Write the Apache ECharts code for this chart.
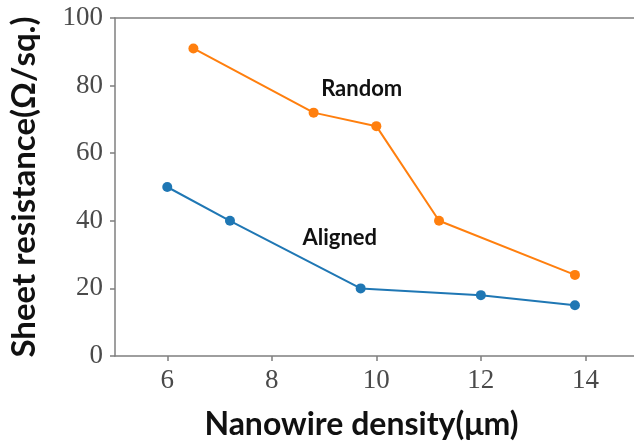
<!DOCTYPE html>
<html>
<head>
<meta charset="utf-8">
<script src="https://cdn.jsdelivr.net/npm/echarts@6/dist/echarts.min.js"></script>
<style>
  html, body { margin: 0; padding: 0; background: #fff; }
  #chart { width: 634px; height: 446px; }
</style>
</head>
<body>
<div id="chart"></div>
<script>
// Nanowire density (µm) vs sheet resistance (Ω/sq.)
const randomX = [6.5, 8.8, 10.0, 11.2, 13.8];
const randomY = [91, 72, 68, 40, 24];
const alignedX = [6.0, 7.2, 9.7, 12.0, 13.8];
const alignedY = [50, 40, 20, 18, 15];
const xTicks = [6, 8, 10, 12, 14];
const yTicks = [0, 20, 40, 60, 80, 100];

// Where the series names sit, in data units
const randomLabelAt = [9.72, 79];
const alignedLabelAt = [9.3, 35];

const ORANGE = '#ff7f0e';
const BLUE = '#1f77b4';
const AXIS = '#7f7f7f';
const TICK_TEXT = '#4a4a4a';
const serif = '"Liberation Serif", "DejaVu Serif", serif';
const sans = 'Lato, "Open Sans", sans-serif';

const X_MIN = 5, X_MAX = 14.93;

const zip = (xs, ys) => xs.map((x, i) => [x, ys[i]]);

const chart = echarts.init(document.getElementById('chart'), null, { renderer: 'canvas' });

function nameMark(text, at) {
  return {
    silent: true,
    symbol: 'circle',
    symbolSize: 0,
    data: [{ coord: at, value: text }],
    label: {
      show: true,
      position: 'inside',
      formatter: text,
      color: '#111',
      fontFamily: sans,
      fontWeight: 'bold',
      fontSize: 22
    }
  };
}

chart.setOption({
  animation: false,
  backgroundColor: '#fff',
  grid: { left: 110, right: -5, top: 18, bottom: 85 },
  xAxis: [
    {
      type: 'value',
      min: X_MIN,
      max: X_MAX,
      name: 'Nanowire density(μm)',
      nameLocation: 'middle',
      nameGap: 53,
      nameTextStyle: {
        color: '#111', fontFamily: sans, fontWeight: 'bold', fontSize: 32,
        padding: [0, 26, 0, 0]
      },
      axisLine: { show: true, lineStyle: { color: AXIS, width: 1.5 } },
      axisTick: { show: true, inside: false, length: 5, customValues: xTicks, lineStyle: { color: AXIS, width: 1.5 } },
      axisLabel: {
        customValues: xTicks, margin: 11,
        color: TICK_TEXT, fontFamily: serif, fontSize: 27
      },
      splitLine: { show: false }
    },
    {
      // top frame line
      type: 'value',
      position: 'top',
      min: X_MIN,
      max: X_MAX,
      axisLine: { show: true, lineStyle: { color: AXIS, width: 1.5 } },
      axisTick: { show: false },
      axisLabel: { show: false },
      splitLine: { show: false }
    }
  ],
  yAxis: {
    type: 'value',
    min: 0,
    max: 100,
    interval: 20,
    name: 'Sheet resistance(Ω/sq.)',
    nameLocation: 'middle',
    nameGap: 74,
    nameTextStyle: {
      color: '#111', fontFamily: sans, fontWeight: 'bold', fontSize: 33
    },
    axisLine: { show: true, lineStyle: { color: AXIS, width: 1.5 } },
    axisTick: { show: true, inside: false, length: 5, lineStyle: { color: AXIS, width: 1.5 } },
    axisLabel: {
      customValues: yTicks, margin: 12,
      color: TICK_TEXT, fontFamily: serif, fontSize: 27
    },
    splitLine: { show: false }
  },
  series: [
    {
      name: 'Random',
      type: 'line',
      data: zip(randomX, randomY),
      symbol: 'circle',
      symbolSize: 10,
      lineStyle: { color: ORANGE, width: 2 },
      itemStyle: { color: ORANGE },
      markPoint: nameMark('Random', randomLabelAt)
    },
    {
      name: 'Aligned',
      type: 'line',
      data: zip(alignedX, alignedY),
      symbol: 'circle',
      symbolSize: 10,
      lineStyle: { color: BLUE, width: 2 },
      itemStyle: { color: BLUE },
      markPoint: nameMark('Aligned', alignedLabelAt)
    }
  ]
});
</script>
</body>
</html>
